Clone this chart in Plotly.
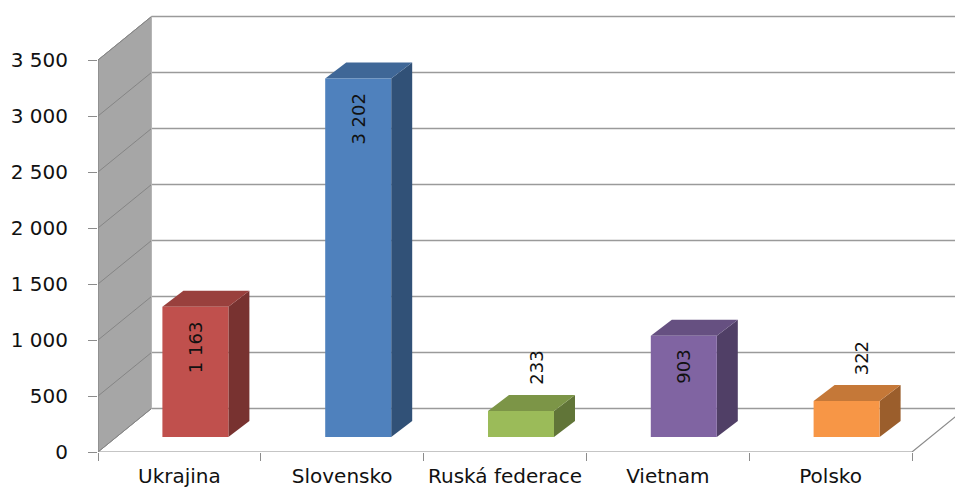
import plotly.graph_objects as go

# ---- data ----
categories = ["Ukrajina", "Slovensko", "Ruská federace", "Vietnam", "Polsko"]
values = [1163, 3202, 233, 903, 322]
label_texts = ["1 163", "3 202", "233", "903", "322"]
inside_label = [True, True, False, True, False]
y_ticks = [0, 500, 1000, 1500, 2000, 2500, 3000, 3500]
y_tick_labels = ["0", "500", "1 000", "1 500", "2 000", "2 500", "3 000", "3 500"]

# ---- style ----
front_colors = ["#C0504D", "#4F81BD", "#9BBB59", "#8064A2", "#F79646"]
FONT = "DejaVu Sans"

# ---- oblique projection helpers (pixel offsets -> data units) ----
CAT_PX = 162.8          # pixels per category
VAL_PX = 56.0 / 500.0   # pixels per value unit
def dx(px): return px / CAT_PX
def dy(px): return px / VAL_PX

WALL_X, WALL_Y = dx(53.5), dy(43.5)     # depth of the whole scene
FRONT_X, FRONT_Y = dx(16), dy(15)       # bar front plane
DEPTH_X, DEPTH_Y = dx(21), dy(16)       # bar depth
BAR_W = dx(66)
N = len(categories)
XL, XR = -0.5, N - 0.5
YMAX = y_ticks[-1]

def shade(hexc, f):
    h = hexc.lstrip("#")
    r, g, b = (int(h[i:i + 2], 16) for i in (0, 2, 4))
    return "rgb(%d,%d,%d)" % (r * f, g * f, b * f)

fig = go.Figure()

def poly(xs, ys, fill, line=None, width=1):
    fig.add_trace(go.Scatter(
        x=xs + [xs[0]], y=ys + [ys[0]], mode="lines", fill="toself",
        fillcolor=fill, line=dict(color=line or fill, width=width if line else 0),
        hoverinfo="skip", showlegend=False))

def seg(xs, ys, color, width=1):
    fig.add_trace(go.Scatter(x=xs, y=ys, mode="lines",
                             line=dict(color=color, width=width),
                             hoverinfo="skip", showlegend=False))

GRID = "#9a9a9a"
EDGE = "#8c8c8c"

# floor
poly([XL, XR, XR + WALL_X, XL + WALL_X], [0, 0, WALL_Y, WALL_Y], "white")
seg([XL, XR, XR + WALL_X], [0, 0, WALL_Y], EDGE, 1.2)
# back wall gridlines
for v in y_ticks:
    seg([XL + WALL_X, XR + WALL_X + 1], [v + WALL_Y, v + WALL_Y], GRID, 1.6)
# left side wall
poly([XL, XL + WALL_X, XL + WALL_X, XL], [0, WALL_Y, YMAX + WALL_Y, YMAX], "#a6a6a6", EDGE, 1)
for v in y_ticks:
    seg([XL, XL + WALL_X], [v, v + WALL_Y], "#858585", 1)
seg([XL + WALL_X, XL + WALL_X], [WALL_Y, YMAX + WALL_Y], "#b5b5b5", 1)
seg([XL, XL], [0, YMAX], EDGE, 1.2)

# bars: side, top and front faces
for i, v in enumerate(values):
    x0 = i + FRONT_X - BAR_W / 2
    x1 = i + FRONT_X + BAR_W / 2
    b = FRONT_Y
    t = v + FRONT_Y
    poly([x1, x1 + DEPTH_X, x1 + DEPTH_X, x1], [b, b + DEPTH_Y, t + DEPTH_Y, t],
         shade(front_colors[i], 0.63))
    poly([x0, x1, x1 + DEPTH_X, x0 + DEPTH_X], [t, t, t + DEPTH_Y, t + DEPTH_Y],
         shade(front_colors[i], 0.8))
    poly([x0, x1, x1, x0], [b, b, t, t], front_colors[i])

# data labels
for i, v in enumerate(values):
    if inside_label[i]:
        fig.add_annotation(x=i + FRONT_X, y=v + FRONT_Y, text=label_texts[i],
                           textangle=-90, showarrow=False, yanchor="top", yshift=-12,
                           font=dict(family=FONT, size=18, color="#111111"))
    else:
        fig.add_annotation(x=i + FRONT_X + DEPTH_X * 0.75, y=v + FRONT_Y + DEPTH_Y,
                           text=label_texts[i], textangle=-90, showarrow=False,
                           yanchor="bottom", yshift=8,
                           font=dict(family=FONT, size=18, color="#111111"))

fig.update_layout(
    width=955, height=487,
    margin=dict(l=98, r=0, t=0, b=35, autoexpand=False),
    paper_bgcolor="white", plot_bgcolor="white",
    showlegend=False,
    font=dict(family=FONT, size=20, color="#111111"),
    xaxis=dict(range=[XL, XL + 857 / CAT_PX], showgrid=False, zeroline=False,
               showline=False, tickmode="array",
               tickvals=list(range(N)), ticktext=categories, ticks="",
               ticklabelstandoff=10,
               minor=dict(tickmode="array", tickvals=[k - 0.5 for k in range(N + 1)],
                          ticks="outside", ticklen=8, tickcolor=EDGE, tickwidth=1.2,
                          showgrid=False),
               fixedrange=True),
    yaxis=dict(range=[0, 452 / VAL_PX], showgrid=False, zeroline=False,
               showline=False, tickmode="array", tickvals=y_ticks,
               ticktext=y_tick_labels, ticks="outside", ticklen=9,
               tickcolor=EDGE, tickwidth=1.2, ticklabelstandoff=16,
               fixedrange=True),
)

fig.write_html("out.html", config={"displayModeBar": False},
               post_script="document.body.style.margin='0';")
